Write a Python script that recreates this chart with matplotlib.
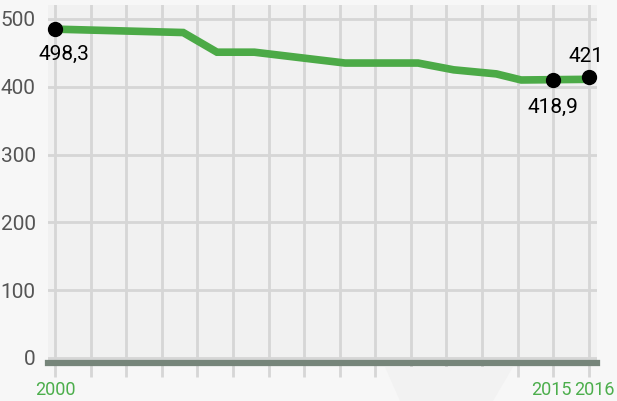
import matplotlib
matplotlib.use('Agg')
import matplotlib.pyplot as plt
import matplotlib.transforms as mtransforms
from matplotlib.patches import Polygon

# category positions (16 slots), only a few are labelled
slot_labels = {0: '2000', 14: '2015', 15: '2016'}
n_slots = 16

# line (slot position, value)
line_x = [0, 3.6, 4.55, 5.6, 8.15, 10.2, 11.2, 12.4, 13.1, 15]
line_y = [485, 480, 451, 451, 435, 435, 425, 419, 410, 411]

# highlighted points and their labels
point_x = [0, 14, 15]
point_y = [485, 410, 414]
point_text = ['498,3', '418,9', '421']

y_ticks = [0, 100, 200, 300, 400, 500]

plt.rcParams['font.family'] = ['Roboto', 'DejaVu Sans']

fig = plt.figure(figsize=(6.17, 4.01), dpi=100, facecolor='#f7f7f7')

# faint darker band under the axis, part of the page background
fig.patches.append(Polygon([(385 / 617, 1 - 367 / 401), (513 / 617, 1 - 367 / 401),
                            (493 / 617, 0), (400 / 617, 0)],
                           closed=True, transform=fig.transFigure,
                           facecolor='#f2f2f2', edgecolor='none', zorder=0))

ax = fig.add_axes([48 / 617, 1 - 363 / 401, 549 / 617, 358 / 401])
ax.set_facecolor('#f1f1f1')

ax.set_xlim(-0.2, 15.23)
ax.set_ylim(-7.4, 520.6)

for s in ax.spines.values():
    s.set_visible(False)

ax.set_xticks(range(n_slots))
ax.set_xticklabels([slot_labels.get(i, '') for i in range(n_slots)])
ax.set_yticks(y_ticks)
ax.tick_params(axis='x', direction='out', length=10, width=2, color='#d6d6d6',
               labelcolor='#4cae4c', labelsize=13, pad=3)
ax.tick_params(axis='y', length=0, labelcolor='#555555', labelsize=15, pad=9)

# spread the last two labels a little, like the original
labels = ax.get_xticklabels()
labels[-1].set_transform(labels[-1].get_transform()
                         + mtransforms.ScaledTranslation(6 / 100, 0, fig.dpi_scale_trans))
labels[-2].set_transform(labels[-2].get_transform()
                         + mtransforms.ScaledTranslation(-2 / 100, 0, fig.dpi_scale_trans))

ax.grid(True, color='#d6d6d6', linewidth=2)
ax.set_axisbelow(True)

ax.axhline(-7.4, color='#76857a', linewidth=4.5, clip_on=False, zorder=3)

ax.plot(line_x, line_y, color='#4caa47', linewidth=5.5, solid_capstyle='round',
        solid_joinstyle='miter', zorder=4, clip_on=False)
ax.plot(point_x, point_y, 'o', color='black', markersize=10, zorder=5, clip_on=False)

fs = 15
ax.annotate(point_text[0], (point_x[0], point_y[0]), xytext=(-12, -11),
            textcoords='offset points', ha='left', va='top', fontsize=fs)
ax.annotate(point_text[1], (point_x[1], point_y[1]), xytext=(0, -13),
            textcoords='offset points', ha='center', va='top', fontsize=fs)
ax.annotate(point_text[2], (point_x[2], point_y[2]), xytext=(-2, 8),
            textcoords='offset points', ha='center', va='bottom', fontsize=fs)

fig.savefig('out.png', dpi=100, facecolor=fig.get_facecolor())
